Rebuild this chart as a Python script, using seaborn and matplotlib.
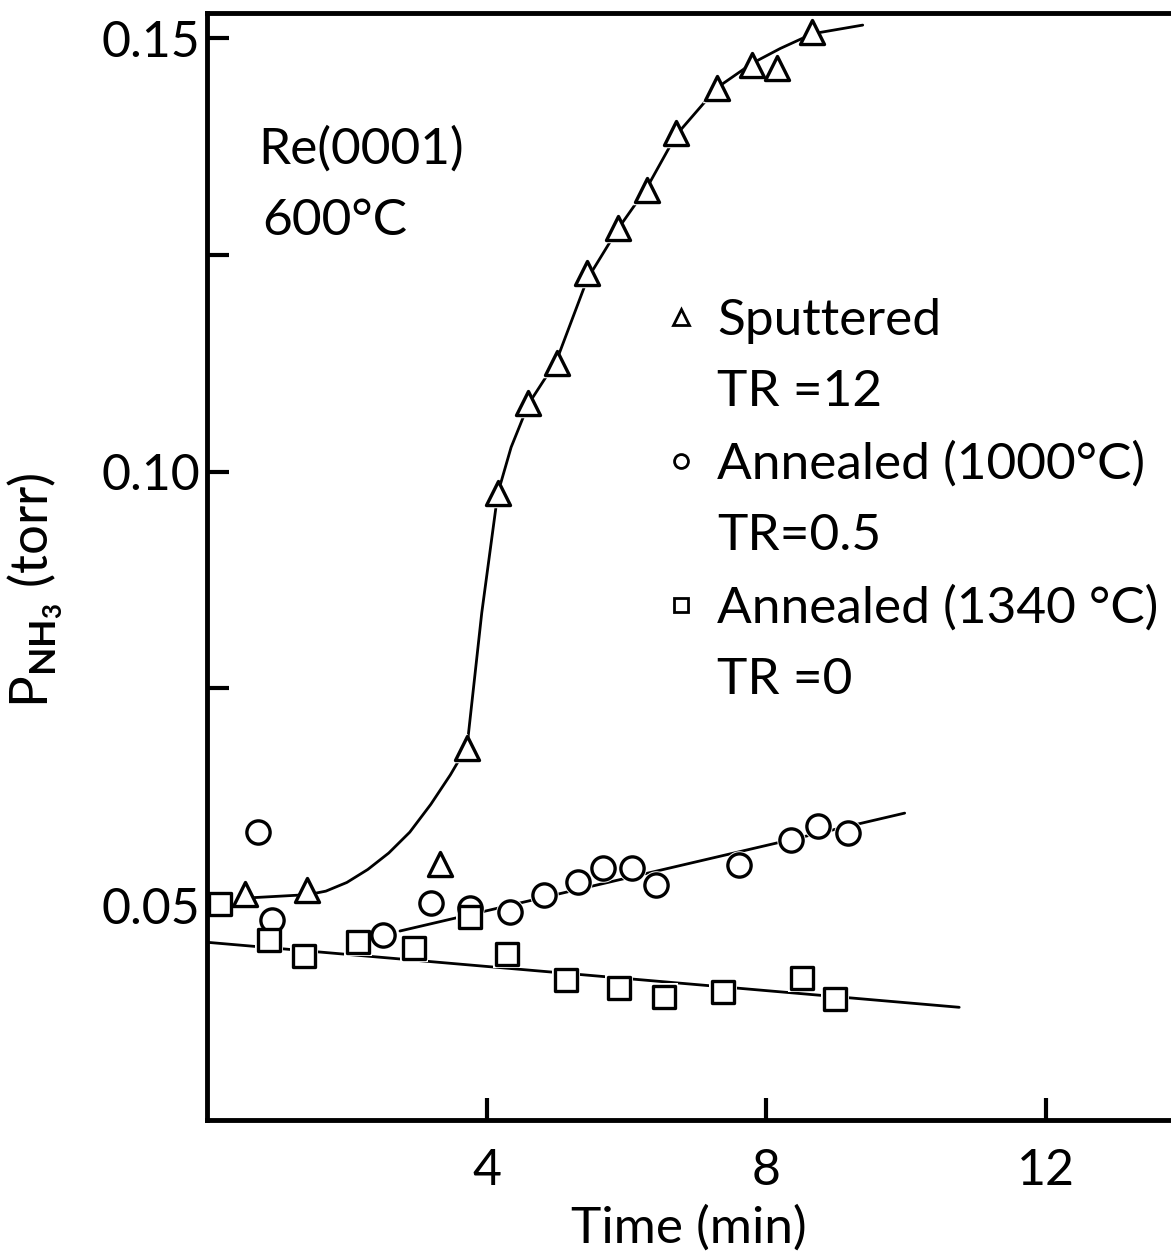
import numpy as np
import pandas as pd
import seaborn as sns
import matplotlib.pyplot as plt
from matplotlib.lines import Line2D

sput_t = [0.54, 1.43, 3.33, 3.72, 4.16, 4.59, 5.01, 5.44, 5.88, 6.29, 6.71, 7.30, 7.80, 8.15, 8.66]
sput_p = [0.0513, 0.0517, 0.0547, 0.0681, 0.0975, 0.1079, 0.1125, 0.1229, 0.1281, 0.1325,
          0.1390, 0.1443, 0.1469, 0.1465, 0.1507]

ann1000_t = [0.73, 0.93, 2.52, 3.20, 3.76, 4.33, 4.82, 5.31, 5.67, 6.08, 6.42, 7.61, 8.35, 8.74, 9.17]
ann1000_p = [0.0584, 0.0483, 0.0465, 0.0502, 0.0497, 0.0492, 0.0512, 0.0527, 0.0543, 0.0543,
             0.0523, 0.0546, 0.0575, 0.0591, 0.0583]

ann1340_t = [0.19, 0.89, 1.39, 2.16, 2.96, 3.76, 4.29, 5.14, 5.89, 6.54, 7.38, 8.51, 8.98]
ann1340_p = [0.0501, 0.0460, 0.0441, 0.0457, 0.0450, 0.0486, 0.0443, 0.0413, 0.0404, 0.0394,
             0.0400, 0.0416, 0.0392]

# hand-drawn guide curves
sput_curve_t = [0.55, 1.45, 1.7, 2.0, 2.3, 2.6, 2.9, 3.2, 3.48, 3.72, 3.93, 4.16, 4.35, 4.6,
                5.0, 5.44, 5.88, 6.29, 6.71, 7.3, 7.8, 8.2, 8.66, 9.38]
sput_curve_p = [0.0508, 0.0512, 0.0516, 0.0526, 0.0541, 0.0560, 0.0584, 0.0616, 0.0650, 0.0683,
                0.0837, 0.0975, 0.1028, 0.1078, 0.1128, 0.1222, 0.1280, 0.1327, 0.1388, 0.1443,
                0.1471, 0.1488, 0.1505, 0.1515]
ann1000_line_t = [2.76, 9.98]
ann1000_line_p = [0.0470, 0.0606]
ann1340_line_t = [0.0, 10.76]
ann1340_line_p = [0.0457, 0.0382]

y_ticks = [0.05, 0.075, 0.10, 0.125, 0.15]
y_ticklabels = ['0.05', '', '0.10', '', '0.15']
x_ticks = [4, 8, 12]
x_ticklabels = ['4', '8', '12']

sns.set_style('ticks')
plt.rcParams['font.family'] = ['Lato', 'DejaVu Sans']
plt.rcParams['mathtext.fontset'] = 'custom'
plt.rcParams['mathtext.rm'] = 'Lato'
plt.rcParams['mathtext.bf'] = 'Lato:bold'
for key in ['text.color', 'axes.labelcolor', 'xtick.color', 'ytick.color']:
    plt.rcParams[key] = 'black'

fig = plt.figure(figsize=(11.71, 12.58), dpi=100)
ax = fig.add_axes([0.1768, 0.1097, 0.8232, 0.88])

lw = 2.0
for t, p in [(sput_curve_t, sput_curve_p), (ann1000_line_t, ann1000_line_p),
             (ann1340_line_t, ann1340_line_p)]:
    sns.lineplot(x=t, y=p, ax=ax, color='black', lw=lw, sort=False, estimator=None, zorder=2)

series = [(sput_t, sput_p, '^', 300), (ann1000_t, ann1000_p, 'o', 280), (ann1340_t, ann1340_p, 's', 260)]
for t, p, m, s in series:
    # white halo leaves the small gaps where the drawn line meets a symbol
    sns.scatterplot(x=t, y=p, ax=ax, marker=m, s=s * 1.5, color='white', edgecolor='white',
                    linewidth=0, zorder=2.5, legend=False)
    sns.scatterplot(x=t, y=p, ax=ax, marker=m, s=s, color='white', edgecolor='black',
                    linewidth=2.4, zorder=3, legend=False)

ax.set_xlim(0, 13.79)
ax.set_ylim(0.0252, 0.1529)
ax.set_xticks(x_ticks)
ax.set_xticklabels(x_ticklabels)
ax.set_yticks(y_ticks)
ax.set_yticklabels(y_ticklabels)
ax.tick_params(direction='in', length=16, width=3, labelsize=36, color='black')
ax.tick_params(axis='x', pad=20)
ax.tick_params(axis='y', pad=5)

for side in ['left', 'bottom', 'top']:
    ax.spines[side].set_linewidth(3.5)
    ax.spines[side].set_color('black')
ax.spines['right'].set_visible(False)

ax.set_xlabel('Time (min)', fontsize=37, labelpad=8)
fig.text(0.030, 0.531, r'$\mathrm{P}_{\mathbf{NH_3}}$ (torr)', rotation=90,
         fontsize=38, ha='center', va='center')

ax.text(0.053, 0.877, 'Re(0001)', transform=ax.transAxes, fontsize=37, va='center')
ax.text(0.057, 0.812, '600°C', transform=ax.transAxes, fontsize=37, va='center')

handles = [
    Line2D([], [], marker='^', ls='none', mfc='white', mec='black', mew=2, ms=11),
    Line2D([], [], ls='none'),
    Line2D([], [], marker='o', ls='none', mfc='white', mec='black', mew=2, ms=10),
    Line2D([], [], ls='none'),
    Line2D([], [], marker='s', ls='none', mfc='white', mec='black', mew=2, ms=10),
    Line2D([], [], ls='none'),
]
labels = ['Sputtered', 'TR =12', 'Annealed (1000°C)', 'TR=0.5', 'Annealed (1340 °C)', 'TR =0']
ax.legend(handles, labels, loc='upper left', bbox_to_anchor=(640 / 1171, 1 - 272 / 1258),
          bbox_transform=fig.transFigure, frameon=False, fontsize=37,
          handlelength=0.6, handletextpad=0.4, labelspacing=0.5, borderpad=0)

fig.savefig('out.png', dpi=100)
